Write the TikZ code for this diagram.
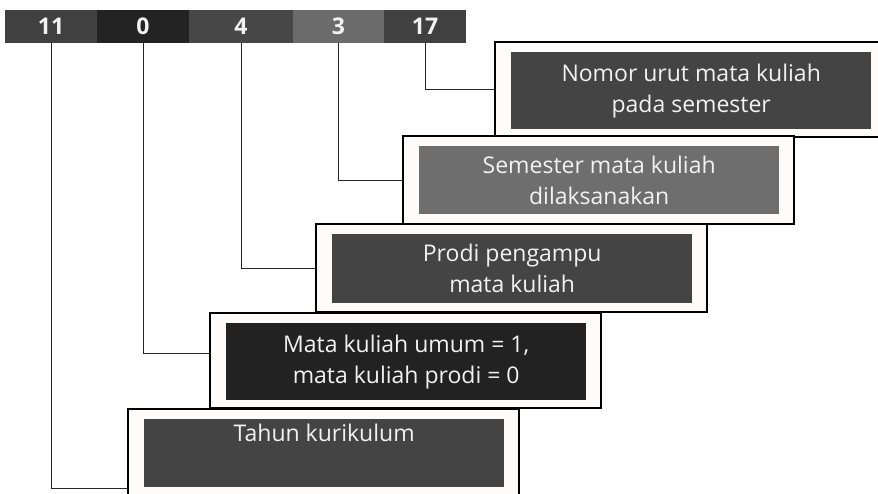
\documentclass[tikz,border=0pt]{standalone}
\usepackage{fontspec}
\setmainfont{Open Sans}
\usetikzlibrary{positioning}

\definecolor{segA}{HTML}{404040}
\definecolor{segB}{HTML}{232323}
\definecolor{segC}{HTML}{474747}
\definecolor{segD}{HTML}{6B6B6B}
\definecolor{boxA}{HTML}{444444}
\definecolor{boxB}{HTML}{222222}
\definecolor{boxC}{HTML}{6E6E6E}
\definecolor{paper}{HTML}{FDFCFA}
\definecolor{label}{HTML}{F2F2F2}

\tikzset{
    seg/.style={minimum height=33pt, inner sep=0pt, outer sep=0pt,
        text=label, font=\fontsize{23}{26}\selectfont\bfseries},
    outbox/.style={draw=black, line width=1.2pt, fill=paper, anchor=north west,
        minimum width=391pt, inner sep=0pt, outer sep=0pt},
    inbox/.style={anchor=north west, minimum width=360pt, inner sep=0pt,
        text=label, align=center, font=\fontsize{23}{31}\selectfont},
    wire/.style={draw=black!85, line width=1pt}
}

\begin{document}
\begin{tikzpicture}[x=1pt, y=-1pt]
    \useasboundingbox (0,0) rectangle (878,493);
    \clip (0,0) rectangle (878,493);

    % code bar
    \node[seg, fill=segA, minimum width=92pt, anchor=north west] (seg11) at (5,10) {11};
    \node[seg, fill=segB, minimum width=92pt, right=0pt of seg11] (seg0) {0};
    \node[seg, fill=segC, minimum width=104pt, right=0pt of seg0] (seg4) {4};
    \node[seg, fill=segD, minimum width=91pt, right=0pt of seg4] (seg3) {3};
    \node[seg, fill=segA, minimum width=82pt, right=0pt of seg3] (seg17) {17};

    % boxes, back to front
    \node[outbox, minimum height=95pt] (out17) at (495,42) {};
    \node[inbox, fill=boxA, minimum height=77pt] (in17) at ([xshift=16pt,yshift=-10pt]out17.north west)
        {Nomor urut mata kuliah\\pada semester};

    \node[outbox, minimum height=88pt] (out3) at (403,136) {};
    \node[inbox, fill=boxC, minimum height=68pt] (in3) at ([xshift=16pt,yshift=-10pt]out3.north west)
        {Semester mata kuliah\\dilaksanakan};

    \node[outbox, minimum height=88pt] (out4) at (316,224) {};
    \node[inbox, fill=boxA, minimum height=69pt] (in4) at ([xshift=16pt,yshift=-10pt]out4.north west)
        {Prodi pengampu\\mata kuliah};

    \node[outbox, minimum height=95pt] (out0) at (210,313) {};
    \node[inbox, fill=boxB, minimum height=77pt] (in0) at ([xshift=16pt,yshift=-10pt]out0.north west)
        {Mata kuliah umum = 1,\\mata kuliah prodi = 0};

    \node[outbox, minimum height=88pt] (out11) at (128,409) {};
    \node[inbox, fill=boxA, minimum height=68pt] (in11) at ([xshift=16pt,yshift=-10pt]out11.north west)
        {Tahun kurikulum\\\strut};

    % connectors
    \coordinate (end0) at ([yshift=7pt]out0.west);
    \coordinate (end11) at ([yshift=-35pt]out11.west);
    \draw[wire] (seg17.south) |- (out17.west);
    \draw[wire] (seg3.south) |- (out3.west);
    \draw[wire] (seg4.south) |- (out4.west);
    \draw[wire] (seg0.south) |- (end0);
    \draw[wire] (seg11.south) |- (end11);
\end{tikzpicture}
\end{document}
